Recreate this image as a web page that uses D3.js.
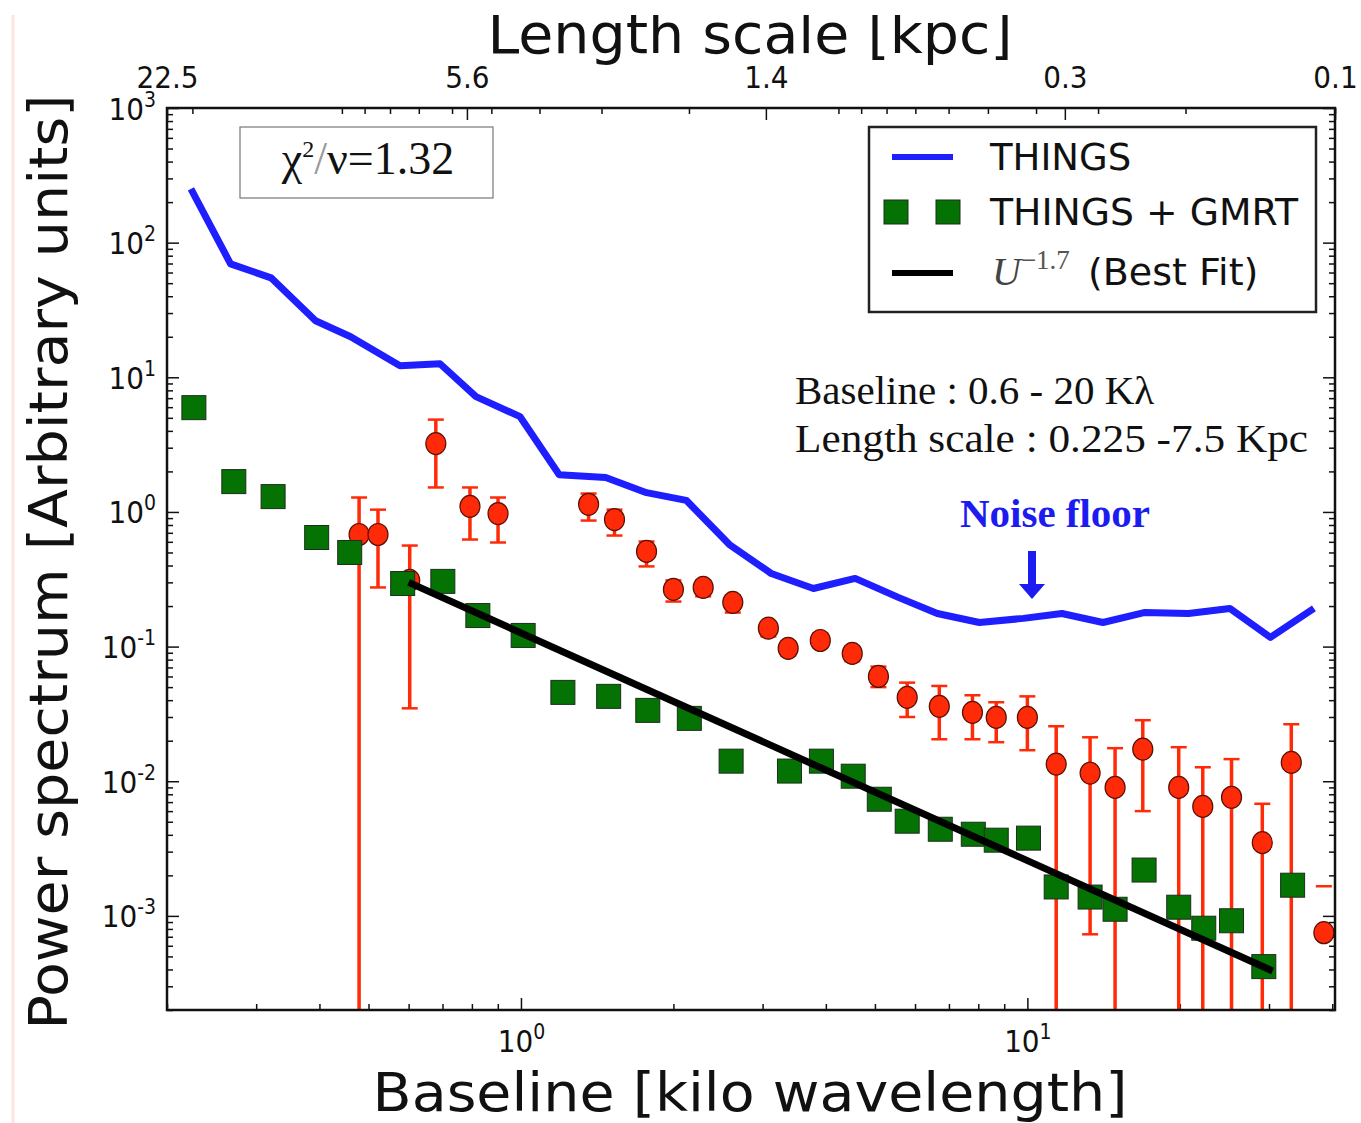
<!DOCTYPE html>
<html>
<head>
<meta charset="utf-8">
<script src="https://cdn.jsdelivr.net/npm/d3@7"></script>
<style>
  body { margin: 0; background: #fff; }
  svg { display: block; }
  text { font-family: "DejaVu Sans", sans-serif; fill: #111; }
  .tick-label { font-family: "DejaVu Sans Condensed", "DejaVu Sans", sans-serif; font-stretch: condensed; font-size: 31px; }
  .serif { font-family: "Liberation Serif", "Times New Roman", serif; }
</style>
</head>
<body>
<svg id="chart" width="1361" height="1123"></svg>
<script>
// THINGS only (blue line)
const thingsX = [0.223, 0.267, 0.321, 0.393, 0.461, 0.577, 0.692, 0.815, 0.996, 1.19, 1.47, 1.77, 2.12, 2.58,
  3.12, 3.78, 4.57, 5.56, 6.64, 8.04, 9.82, 11.7, 14.1, 17.0, 20.8, 25.1, 30.2, 36.8];
const thingsY = [251, 69.6, 54.8, 26.3, 20.0, 12.2, 12.6, 7.18, 5.10, 1.89, 1.80, 1.39, 1.22, 0.573,
  0.349, 0.270, 0.321, 0.232, 0.176, 0.151, 0.162, 0.176, 0.151, 0.179, 0.176, 0.192, 0.117, 0.192];

// THINGS + GMRT (green squares)
const gmrtX = [0.226, 0.271, 0.324, 0.395, 0.459, 0.584, 0.701, 0.822, 1.01, 1.21, 1.49, 1.78, 2.15, 2.60,
  3.39, 3.92, 4.53, 5.10, 5.79, 6.73, 7.82, 8.68, 10.05, 11.4, 13.3, 14.9, 17.0, 19.9, 22.3, 25.3, 29.3, 33.4];
const gmrtY = [5.95, 1.68, 1.30, 0.646, 0.500, 0.294, 0.305, 0.170, 0.121, 0.0457, 0.0427, 0.0336, 0.0293, 0.0141,
  0.0119, 0.0141, 0.0109, 0.00735, 0.00505, 0.00440, 0.00404, 0.00365, 0.00378, 0.00164, 0.00138, 0.00112,
  0.00219, 0.00116, 0.00081, 0.00092, 0.00042, 0.00169];

// red points with error bars (lo = 0 -> bar runs off the bottom, null -> only upper cap)
const signalX = [0.479, 0.522, 0.603, 0.679, 0.793, 0.901, 1.36, 1.53, 1.77, 2.00, 2.29, 2.62, 3.08, 3.37,
  3.90, 4.51, 5.08, 5.79, 6.70, 7.79, 8.68, 10.0, 11.4, 13.3, 14.9, 16.9, 19.9, 22.2, 25.3, 29.1, 33.2, 38.5];
const signalY = [0.680, 0.680, 0.310, 3.22, 1.10, 0.973, 1.14, 0.878, 0.509, 0.266, 0.275, 0.213, 0.137, 0.097,
  0.111, 0.089, 0.060, 0.042, 0.036, 0.0325, 0.0298, 0.0298, 0.0134, 0.0115, 0.0090, 0.0173, 0.0090, 0.0065,
  0.0076, 0.0035, 0.0138, 0.00075];
const signalHi = [1.28, 1.04, 0.563, 4.85, 1.52, 1.28, 1.37, 1.04, 0.603, 0.310, 0.310, 0.240, 0.151, 0.109,
  0.125, 0.100, 0.071, 0.054, 0.051, 0.0435, 0.0386, 0.0427, 0.0256, 0.0212, 0.0176, 0.0284, 0.0179, 0.0127,
  0.0146, 0.0068, 0.0265, 0.00166];
const signalLo = [0, 0.275, 0.0348, 1.52, 0.624, 0.593, 0.863, 0.668, 0.394, 0.216, 0.236, 0.179, 0.119, 0.086,
  0.099, 0.078, 0.050, 0.030, 0.0205, 0.0205, 0.0195, 0.0170, 0, 0.00073, 0, 0.0060, 0, 0, 0, 0, 0, null];

// best fit U^-1.7 end points
const fitX = [0.6, 30.5];
const fitY = [0.30, 0.00039];

const yTicks = [1e-3, 1e-2, 1e-1, 1, 10, 100, 1000];
const xTicks = [1, 10];
const topTicks = [22.5, 5.6, 1.4, 0.35, 0.1];
const topTickLabels = ['22.5', '5.6', '1.4', '0.3', '0.1'];

const blue = '#1e1eff';
const green = '#047304';
const red = '#ff2a08';

const svg = d3.select('#chart');
const L = 167, R = 1335, T = 108, B = 1010;

const x = d3.scaleLog().domain([0.2, 40.5]).range([L, R]);
const y = d3.scaleLog().domain([2e-4, 1e3]).range([B, T]);
const xTop = d3.scaleLog().domain([22.5, 0.1]).range([L, R]);

svg.append('defs').append('clipPath').attr('id', 'plot')
  .append('rect').attr('x', L).attr('y', T).attr('width', R - L).attr('height', B - T);

// faint crop edge on the left
svg.append('line').attr('x1', 13).attr('x2', 13).attr('y1', 15).attr('y2', 1123)
  .attr('stroke', '#fde6e0').attr('stroke-width', 3);

// ---- ticks ----
const isDecade = d => Math.abs(Math.log10(d) - Math.round(Math.log10(d))) < 1e-6;

function styleAxis(g) {
  g.select('.domain').remove();
  g.selectAll('line').attr('stroke', '#111').attr('stroke-width', 1.5);
}

// minor ticks
svg.append('g').attr('transform', `translate(${L},0)`)
  .call(d3.axisLeft(y).tickValues(y.ticks().filter(d => !isDecade(d))).tickSize(-6).tickFormat(''))
  .call(styleAxis);
svg.append('g').attr('transform', `translate(${R},0)`)
  .call(d3.axisRight(y).tickValues(y.ticks().filter(d => !isDecade(d))).tickSize(-6).tickFormat(''))
  .call(styleAxis);
svg.append('g').attr('transform', `translate(0,${B})`)
  .call(d3.axisBottom(x).tickValues(x.ticks().filter(d => !isDecade(d))).tickSize(-6).tickFormat(''))
  .call(styleAxis);
svg.append('g').attr('transform', `translate(0,${T})`)
  .call(d3.axisTop(xTop).tickValues(xTop.ticks()).tickSize(-6).tickFormat(''))
  .call(styleAxis);

// major ticks with labels
function powLabel(sel) {
  sel.each(function(d) {
    const t = d3.select(this);
    t.text(null).attr('class', 'tick-label').attr('fill', '#222');
    t.append('tspan').text('10');
    t.append('tspan').attr('dy', -13).attr('font-size', 21).text(Math.round(Math.log10(d)));
  });
}

const yAxis = svg.append('g').attr('transform', `translate(${L},0)`)
  .call(d3.axisLeft(y).tickValues(yTicks).tickSize(-12).tickPadding(11))
  .call(styleAxis);
yAxis.selectAll('text').attr('dy', 11).attr('text-anchor', 'end').call(powLabel);

svg.append('g').attr('transform', `translate(${R},0)`)
  .call(d3.axisRight(y).tickValues(yTicks).tickSize(-12).tickFormat(''))
  .call(styleAxis);

const xAxis = svg.append('g').attr('transform', `translate(0,${B})`)
  .call(d3.axisBottom(x).tickValues(xTicks).tickSize(-12))
  .call(styleAxis);
xAxis.selectAll('text').attr('y', 42).attr('dy', 0).attr('dx', 0).call(powLabel);

const topAxis = svg.append('g').attr('transform', `translate(0,${T})`)
  .call(d3.axisTop(xTop).tickValues(topTicks).tickSize(-12).tickFormat((d, i) => topTickLabels[i]))
  .call(styleAxis);
topAxis.selectAll('text').attr('class', 'tick-label').attr('fill', '#222').attr('y', -20).attr('dy', 0);

// ---- data ----
const plot = svg.append('g').attr('clip-path', 'url(#plot)');

const things = thingsX.map((d, i) => [d, thingsY[i]]);
plot.append('path').datum(things)
  .attr('d', d3.line().x(d => x(d[0])).y(d => y(d[1])))
  .attr('fill', 'none').attr('stroke', blue).attr('stroke-width', 7).attr('stroke-linejoin', 'round');

const signal = signalX.map((d, i) => ({ x: d, y: signalY[i], hi: signalHi[i], lo: signalLo[i] }));
const bars = plot.append('g').attr('stroke', red);
signal.forEach(d => {
  const cx = x(d.x);
  if (d.lo !== null) {
    const yLo = d.lo > 0 ? y(d.lo) : B + 10;
    bars.append('line').attr('x1', cx).attr('x2', cx).attr('y1', y(d.hi)).attr('y2', yLo).attr('stroke-width', 3.5);
    if (d.lo > 0) bars.append('line').attr('x1', cx - 8).attr('x2', cx + 8).attr('y1', yLo).attr('y2', yLo).attr('stroke-width', 2.5);
  }
  bars.append('line').attr('x1', cx - 8).attr('x2', cx + 8).attr('y1', y(d.hi)).attr('y2', y(d.hi)).attr('stroke-width', 2.5);
});

svg.append('g').selectAll('ellipse').data(signal).join('ellipse')
  .attr('cx', d => x(d.x)).attr('cy', d => y(d.y)).attr('rx', 10).attr('ry', 11)
  .attr('fill', red).attr('stroke', '#5a1005').attr('stroke-width', 1.2);

const gmrt = gmrtX.map((d, i) => [d, gmrtY[i]]);
svg.append('g').selectAll('rect').data(gmrt).join('rect')
  .attr('x', d => x(d[0]) - 12).attr('y', d => y(d[1]) - 12).attr('width', 24).attr('height', 24)
  .attr('fill', green).attr('stroke', '#1c2e1c').attr('stroke-width', 1);

svg.append('path').datum(fitX.map((d, i) => [d, fitY[i]]))
  .attr('d', d3.line().x(d => x(d[0])).y(d => y(d[1])))
  .attr('stroke', '#000').attr('stroke-width', 7).attr('fill', 'none');

// spines
svg.append('rect').attr('x', L).attr('y', T).attr('width', R - L).attr('height', B - T)
  .attr('fill', 'none').attr('stroke', '#111').attr('stroke-width', 2.5);

// ---- labels ----
svg.append('text').attr('x', 750).attr('y', 53).attr('text-anchor', 'middle')
  .attr('font-size', 55).attr('textLength', 525).attr('lengthAdjust', 'spacingAndGlyphs')
  .text('Length scale [kpc]');
svg.append('rect').attr('x', 0).attr('y', 0).attr('width', 1361).attr('height', 15).attr('fill', '#fff');

svg.append('text').attr('x', 750).attr('y', 1111).attr('text-anchor', 'middle')
  .attr('font-size', 54).attr('textLength', 755).attr('lengthAdjust', 'spacingAndGlyphs')
  .text('Baseline [kilo wavelength]');

svg.append('text').attr('transform', 'translate(67,562) rotate(-90)').attr('text-anchor', 'middle')
  .attr('font-size', 54).attr('textLength', 935).attr('lengthAdjust', 'spacingAndGlyphs')
  .text('Power spectrum [Arbitrary units]');

// chi-square box
svg.append('rect').attr('x', 240).attr('y', 127).attr('width', 253).attr('height', 71)
  .attr('fill', '#fff').attr('stroke', '#777').attr('stroke-width', 1.2);
const chi = svg.append('text').attr('class', 'serif').attr('x', 368).attr('y', 174)
  .attr('text-anchor', 'middle').attr('font-size', 46);
chi.append('tspan').text('χ');
chi.append('tspan').attr('dy', -17).attr('font-size', 24).text('2');
chi.append('tspan').attr('dy', 17).attr('fill', '#999').text('/');
chi.append('tspan').text('ν=1.32');

// baseline / length-scale note
svg.append('text').attr('class', 'serif').attr('x', 795).attr('y', 404).attr('font-size', 41)
  .text('Baseline : 0.6 - 20 Kλ');
svg.append('text').attr('class', 'serif').attr('x', 795).attr('y', 452).attr('font-size', 41)
  .attr('textLength', 513).attr('lengthAdjust', 'spacingAndGlyphs')
  .text('Length scale : 0.225 -7.5 Kpc');

// noise floor marker
svg.append('text').attr('class', 'serif').attr('x', 1055).attr('y', 527).attr('text-anchor', 'middle')
  .attr('font-size', 41).attr('font-weight', 'bold').style('fill', '#1c1cf0')
  .text('Noise floor');
svg.append('rect').attr('x', 1028).attr('y', 551).attr('width', 8).attr('height', 35).attr('fill', '#1c1cf0');
svg.append('path').attr('d', 'M1019,584 L1045,584 L1032,599 Z').attr('fill', '#1c1cf0');

// ---- legend ----
const legend = svg.append('g');
legend.append('rect').attr('x', 869).attr('y', 127).attr('width', 447).attr('height', 185)
  .attr('fill', '#fff').attr('stroke', '#222').attr('stroke-width', 2.5);
legend.append('line').attr('x1', 892).attr('x2', 953).attr('y1', 157).attr('y2', 157)
  .attr('stroke', blue).attr('stroke-width', 6);
legend.append('text').attr('x', 990).attr('y', 170).attr('font-size', 37).text('THINGS');
[896, 948].forEach(cx => legend.append('rect').attr('x', cx - 12).attr('y', 200).attr('width', 24).attr('height', 24)
  .attr('fill', green).attr('stroke', '#1c2e1c').attr('stroke-width', 1));
legend.append('text').attr('x', 990).attr('y', 225).attr('font-size', 37)
  .attr('textLength', 308).attr('lengthAdjust', 'spacingAndGlyphs').text('THINGS + GMRT');
legend.append('line').attr('x1', 892).attr('x2', 953).attr('y1', 273).attr('y2', 273)
  .attr('stroke', '#000').attr('stroke-width', 6);
const fitLabel = legend.append('text').attr('x', 992).attr('y', 285).attr('font-size', 37);
fitLabel.append('tspan').attr('class', 'serif').attr('font-style', 'italic').attr('fill', '#444').attr('font-size', 40).text('U');
fitLabel.append('tspan').attr('class', 'serif').attr('fill', '#555').attr('font-size', 27).attr('dy', -16).text('−1.7');
fitLabel.append('tspan').attr('dy', 16).attr('dx', 6).attr('font-size', 38).text(' (Best Fit)');
</script>
</body>
</html>
